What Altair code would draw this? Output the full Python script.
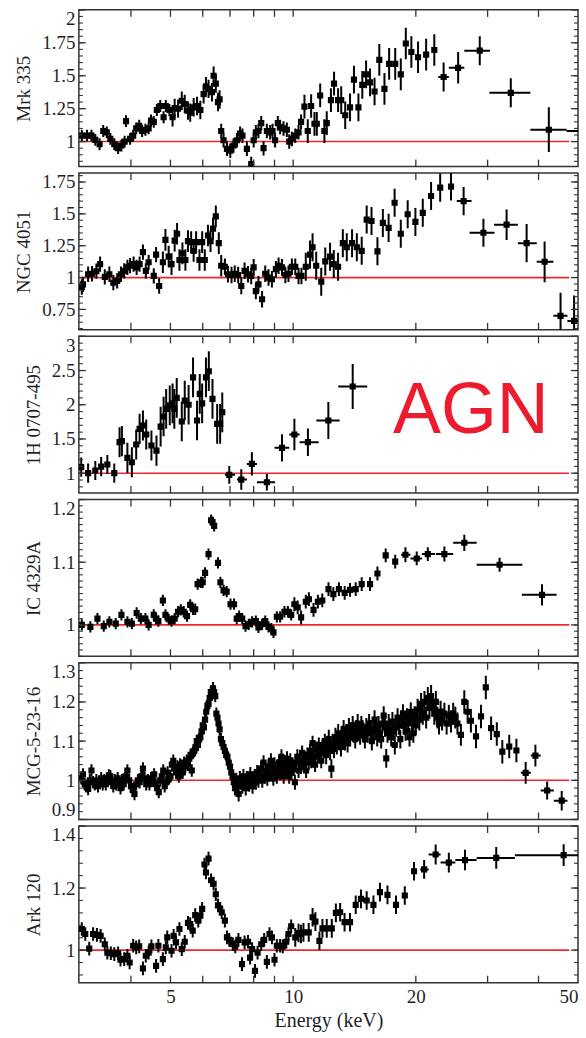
import altair as alt
import pandas as pd

FONT = "Liberation Serif"
TXT = "#1f1f29"
RED = "#f0282d"
AGN_RED = "#ec1b2d"
XDOM = [2.98, 50]
X_LABELS = [5, 10, 20, 50]
X_TICKS = [4, 5, 6, 7, 8, 9, 10, 20, 30, 40]
LINE_END = 47.6
W, H = 500, 157

# ---------------- Mrk 335 ----------------
MRK = [(3.03, 1.045), (3.12, 1.045), (3.20, 1.045), (3.27, 1.013), (3.35, 0.98), (3.42, 1.08),
       (3.49, 1.07), (3.56, 1.02), (3.64, 0.98), (3.72, 0.95), (3.79, 0.97), (3.86, 1.00),
       (3.89, 1.155), (3.98, 1.02), (4.05, 1.045), (4.12, 1.10), (4.19, 1.12), (4.26, 1.08),
       (4.34, 1.09), (4.42, 1.10), (4.48, 1.16), (4.55, 1.15), (4.63, 1.24), (4.72, 1.27),
       (4.81, 1.185), (4.87, 1.27), (4.97, 1.24), (5.06, 1.185), (5.12, 1.255), (5.22, 1.25),
       (5.33, 1.31), (5.42, 1.285), (5.52, 1.235), (5.59, 1.22), (5.70, 1.26), (5.81, 1.27),
       (5.92, 1.24), (6.03, 1.36), (6.11, 1.42), (6.20, 1.40), (6.32, 1.375), (6.38, 1.50),
       (6.46, 1.44), (6.54, 1.30), (6.60, 1.32), (6.66, 1.08), (6.75, 1.01), (6.88, 0.945),
       (7.01, 0.93), (7.14, 0.97), (7.28, 1.01), (7.41, 1.06), (7.51, 1.045), (7.70, 0.945),
       (7.89, 0.83), (8.00, 1.01), (8.10, 1.07), (8.22, 1.08), (8.35, 1.14), (8.46, 0.95),
       (8.62, 1.08), (8.78, 1.07), (8.90, 1.08), (9.03, 1.01), (9.17, 1.14), (9.29, 1.11),
       (9.47, 1.10), (9.65, 1.09), (9.78, 1.00), (9.93, 1.02), (10.12, 1.045), (10.31, 1.07),
       (10.46, 1.15), (10.66, 1.265), (10.86, 1.08), (11.07, 1.27), (11.28, 1.135), (11.43, 1.135),
       (11.65, 1.35), (11.93, 1.08), (12.09, 1.14), (12.38, 1.315), (12.60, 1.44), (12.89, 1.315),
       (13.12, 1.315), (13.42, 1.20), (13.79, 1.26), (14.10, 1.47), (14.46, 1.26), (14.78, 1.43),
       (15.10, 1.51), (15.44, 1.45), (15.84, 1.38), (16.27, 1.62), (16.75, 1.40), (17.20, 1.59),
       (17.80, 1.59), (18.37, 1.51), (18.90, 1.745), (19.50, 1.68), (20.25, 1.64), (21.20, 1.66),
       (22.20, 1.695)]
MRK_ERR_EDGES = [5.0, 6.62, 10.5, 13.0, 16.0, 100]
MRK_ERR_VALS = [0.045, 0.07, 0.055, 0.09, 0.105, 0.12]
# wide bins: energy, ratio, error, bin low, bin high
MRK_WIDE = [(23.4, 1.49, 0.11, 22.7, 24.1), (25.4, 1.56, 0.12, 24.1, 26.3),
            (28.7, 1.69, 0.11, 26.3, 30.4), (34.2, 1.37, 0.11, 30.3, 38.2),
            (42.4, 1.09, 0.17, 38.2, 46.9), (55.0, 1.08, 0.20, 46.9, 62.0)]

# ---------------- NGC 4051 ----------------
NGC = [(3.03, 0.926), (3.05, 0.947), (3.14, 1.026), (3.21, 1.03), (3.29, 1.05), (3.36, 1.106),
       (3.45, 1.005), (3.54, 1.026), (3.62, 0.96), (3.70, 0.974), (3.78, 1.026), (3.85, 1.053),
       (3.92, 1.08), (3.98, 1.093), (4.06, 1.106), (4.13, 1.08), (4.20, 1.106), (4.28, 1.20),
       (4.35, 1.053), (4.42, 1.12), (4.55, 1.013), (4.61, 1.18), (4.69, 0.934), (4.79, 1.12),
       (4.86, 1.296), (4.95, 1.164), (5.03, 1.106), (5.12, 1.29), (5.19, 1.344), (5.26, 1.138),
       (5.35, 1.19), (5.44, 1.138), (5.52, 1.286), (5.62, 1.278), (5.70, 1.21), (5.78, 1.278),
       (5.89, 1.138), (5.98, 1.278), (6.07, 1.138), (6.18, 1.33), (6.27, 1.286), (6.36, 1.384),
       (6.46, 1.48), (6.57, 1.27), (6.66, 1.093), (6.80, 1.085), (6.92, 1.026), (7.06, 1.02),
       (7.19, 1.03), (7.33, 1.02), (7.46, 0.934), (7.60, 1.053), (7.75, 1.026), (7.89, 1.013),
       (8.00, 1.08), (8.10, 0.894), (8.22, 0.947), (8.39, 0.83), (8.54, 1.03), (8.70, 1.0),
       (8.87, 0.987), (9.07, 1.066), (9.21, 1.093), (9.39, 1.08), (9.57, 1.02), (9.74, 1.03),
       (9.93, 1.085), (10.12, 1.085), (10.31, 1.013), (10.48, 1.013), (10.74, 1.085), (11.0, 1.18),
       (11.16, 1.238), (11.39, 1.093), (11.72, 0.968), (11.99, 1.127), (12.32, 1.164), (12.58, 1.106),
       (12.89, 1.085), (13.24, 1.27), (13.54, 1.238), (13.95, 1.27), (14.33, 1.238), (14.73, 1.21),
       (15.15, 1.455), (15.57, 1.444), (16.1, 1.206), (16.6, 1.429), (17.15, 1.39), (17.74, 1.587),
       (18.37, 1.344), (19.1, 1.497), (19.95, 1.437), (20.8, 1.508), (21.8, 1.64), (22.95, 1.706),
       (24.4, 1.714)]
NGC_ERR_EDGES = [4.7, 6.7, 10.5, 100]
NGC_ERR_VALS = [0.06, 0.085, 0.065, 0.11]
NGC_WIDE = [(26.2, 1.60, 0.11, 25.2, 27.4), (29.3, 1.352, 0.11, 27.1, 31.2),
            (33.4, 1.415, 0.12, 31.1, 35.6), (37.4, 1.27, 0.15, 35.6, 39.6),
            (41.4, 1.124, 0.16, 39.6, 43.5), (45.3, 0.70, 0.18, 43.5, 47.1),
            (48.9, 0.66, 0.20, 47.1, 50.5)]

# ---------------- 1H 0707-495 ----------------
H07 = [(3.02, 1.088), (3.14, 1.0), (3.27, 1.04), (3.38, 1.097), (3.50, 1.127), (3.64, 1.0),
       (3.75, 1.453), (3.80, 1.468), (3.92, 1.224), (4.02, 1.16), (4.12, 1.419), (4.20, 1.648),
       (4.28, 1.697), (4.36, 1.565), (4.49, 1.404), (4.62, 1.33), (4.73, 1.68), (4.81, 1.828),
       (4.88, 1.94), (4.98, 1.99), (5.06, 2.02), (5.11, 1.94), (5.18, 2.10), (5.33, 1.755),
       (5.42, 2.06), (5.54, 2.0), (5.68, 2.40), (5.81, 1.77), (5.90, 2.16), (5.98, 2.02),
       (6.11, 2.40), (6.21, 2.49), (6.34, 2.087), (6.51, 1.72), (6.62, 1.72), (6.70, 1.89)]
H07_ERR_EDGES = [3.7, 4.7, 100]
H07_ERR_VALS = [0.14, 0.22, 0.29]
H07_WIDE = [(6.97, 0.976, 0.13, 6.80, 7.20), (7.46, 0.907, 0.15, 7.28, 7.70),
            (7.92, 1.136, 0.17, 7.70, 8.15), (8.62, 0.868, 0.12, 8.15, 9.03),
            (9.39, 1.37, 0.20, 9.00, 9.78), (10.07, 1.565, 0.23, 9.78, 10.37),
            (10.87, 1.453, 0.20, 10.37, 11.55), (12.2, 1.77, 0.27, 11.40, 13.0),
            (14.0, 2.267, 0.33, 12.9, 15.2)]

# ---------------- IC 4329A ----------------
IC = [(3.03, 1.0), (3.18, 0.997), (3.31, 1.01), (3.43, 0.998), (3.54, 1.005), (3.67, 1.002),
      (3.79, 1.016), (3.92, 1.005), (4.02, 1.002), (4.13, 1.019), (4.23, 1.01), (4.34, 1.01),
      (4.42, 1.0), (4.55, 1.016), (4.61, 1.01), (4.67, 1.006), (4.79, 1.039), (4.86, 1.016),
      (4.95, 1.009), (5.03, 1.006), (5.12, 1.01), (5.22, 1.021), (5.30, 1.024), (5.39, 1.021),
      (5.49, 1.014), (5.59, 1.032), (5.68, 1.025), (5.75, 1.025), (5.83, 1.065), (5.94, 1.068),
      (6.0, 1.068), (6.08, 1.083), (6.2, 1.113), (6.29, 1.167), (6.34, 1.164), (6.40, 1.158),
      (6.54, 1.099), (6.63, 1.068), (6.75, 1.055), (6.87, 1.053), (7.02, 1.033), (7.16, 1.033),
      (7.27, 1.01), (7.37, 1.014), (7.50, 1.01), (7.64, 0.998), (7.78, 1.001), (7.93, 1.005),
      (8.10, 1.006), (8.22, 0.996), (8.39, 1.001), (8.54, 1.006), (8.70, 0.997), (8.84, 0.994),
      (8.95, 0.988), (9.12, 1.013), (9.29, 1.013), (9.52, 1.021), (9.71, 1.021), (9.89, 1.016),
      (10.07, 1.033), (10.26, 1.028), (10.46, 1.012), (10.74, 1.037), (10.93, 1.041),
      (11.22, 1.024), (11.50, 1.037), (11.79, 1.039), (12.21, 1.057), (12.55, 1.049),
      (12.95, 1.057), (13.38, 1.051), (13.79, 1.056), (14.24, 1.057), (14.73, 1.065),
      (15.44, 1.065), (16.1, 1.082), (16.87, 1.111), (17.8, 1.101)]
IC_ERR_EDGES = [10.0, 100]
IC_ERR_VALS = [0.009, 0.011]
IC_WIDE = [(18.86, 1.112, 0.012, 18.4, 19.4), (20.1, 1.106, 0.011, 19.4, 20.7),
           (21.4, 1.113, 0.011, 20.7, 22.3), (23.5, 1.113, 0.012, 22.4, 24.7),
           (26.3, 1.131, 0.013, 24.7, 28.2), (32.1, 1.096, 0.011, 28.2, 36.5),
           (40.8, 1.048, 0.017, 36.4, 44.3)]

# ---------------- MCG-5-23-16 ----------------
MCG = [(3.02, 1.005), (3.05, 1.015), (3.08, 0.99), (3.11, 0.985), (3.14, 0.978), (3.17, 1.0),
       (3.20, 1.025), (3.23, 0.995), (3.26, 0.99), (3.29, 1.0), (3.32, 0.985), (3.35, 0.995),
       (3.38, 1.005), (3.41, 0.99), (3.44, 1.0), (3.47, 0.99), (3.50, 1.005), (3.53, 1.012),
       (3.56, 1.01), (3.59, 0.995), (3.62, 0.985), (3.65, 1.0), (3.68, 0.99), (3.71, 1.005),
       (3.74, 0.995), (3.77, 0.98), (3.80, 1.0), (3.84, 0.99), (3.88, 1.01), (3.92, 1.025),
       (3.96, 1.0), (4.00, 0.985), (4.04, 0.975), (4.08, 0.965), (4.12, 0.99), (4.16, 1.0),
       (4.20, 0.995), (4.24, 1.01), (4.28, 1.03), (4.32, 1.005), (4.36, 0.99), (4.40, 1.0),
       (4.44, 0.99), (4.48, 1.005), (4.52, 1.0), (4.56, 1.015), (4.60, 0.99), (4.64, 0.98),
       (4.68, 0.97), (4.72, 1.0), (4.76, 1.01), (4.80, 1.025), (4.84, 0.985), (4.88, 0.995),
       (4.92, 1.02), (4.96, 1.005), (5.00, 1.01), (5.04, 1.04), (5.08, 1.05), (5.12, 1.03),
       (5.16, 1.02), (5.20, 1.035), (5.24, 1.01), (5.28, 1.04), (5.32, 1.025), (5.36, 1.02),
       (5.40, 1.045), (5.44, 1.035), (5.48, 1.05), (5.52, 1.04), (5.56, 1.055), (5.60, 1.065),
       (5.64, 1.025), (5.68, 1.07), (5.72, 1.075), (5.76, 1.085), (5.80, 1.1), (5.84, 1.09),
       (5.88, 1.105), (5.92, 1.11), (5.96, 1.125), (6.00, 1.14), (6.04, 1.135), (6.08, 1.155),
       (6.12, 1.175), (6.16, 1.19), (6.20, 1.195), (6.24, 1.21), (6.28, 1.225), (6.32, 1.22),
       (6.36, 1.235), (6.40, 1.225), (6.44, 1.215), (6.48, 1.17), (6.52, 1.16), (6.56, 1.145),
       (6.60, 1.13), (6.65, 1.105), (6.70, 1.095), (6.75, 1.085), (6.80, 1.075), (6.85, 1.065),
       (6.90, 1.06), (6.95, 1.045), (7.00, 1.035), (7.05, 1.02), (7.10, 1.01), (7.15, 0.995),
       (7.20, 0.98), (7.25, 1.0), (7.30, 0.99), (7.35, 0.965), (7.40, 1.005), (7.45, 0.995),
       (7.50, 0.985), (7.55, 1.01), (7.60, 0.995), (7.65, 0.98), (7.70, 1.005), (7.75, 1.0),
       (7.80, 0.99), (7.85, 1.015), (7.90, 1.0), (7.95, 0.985), (8.00, 1.005), (8.05, 1.01),
       (8.10, 0.995), (8.16, 1.02), (8.22, 1.0), (8.28, 1.015), (8.34, 1.03), (8.40, 1.0),
       (8.46, 1.045), (8.52, 1.01), (8.58, 1.025), (8.64, 1.005), (8.70, 1.035), (8.76, 1.015),
       (8.82, 1.05), (8.88, 1.02), (8.94, 1.005), (9.00, 1.04), (9.06, 1.025), (9.12, 1.01),
       (9.18, 1.035), (9.24, 1.045), (9.30, 1.02), (9.36, 1.06), (9.42, 1.03), (9.48, 1.01),
       (9.54, 1.045), (9.60, 1.025), (9.66, 1.055), (9.72, 1.035), (9.78, 1.01), (9.84, 1.05),
       (9.90, 1.02), (9.96, 1.04), (10.03, 1.03), (10.10, 0.995), (10.17, 1.045), (10.24, 1.06),
       (10.31, 1.025), (10.38, 1.05), (10.45, 1.035), (10.52, 1.07), (10.60, 1.04), (10.68, 1.055),
       (10.76, 1.025), (10.84, 1.065), (10.92, 1.045), (11.00, 1.075), (11.08, 1.05), (11.16, 1.095),
       (11.24, 1.06), (11.32, 1.04), (11.40, 1.08), (11.48, 1.065), (11.56, 1.09), (11.64, 1.07),
       (11.72, 1.05), (11.80, 1.085), (11.88, 1.075), (11.96, 1.1), (12.05, 1.065), (12.14, 1.09),
       (12.23, 1.105), (12.32, 1.075), (12.41, 1.03), (12.50, 1.095), (12.60, 1.08), (12.70, 1.11),
       (12.80, 1.09), (12.90, 1.12), (13.00, 1.1), (13.10, 1.085), (13.20, 1.115), (13.30, 1.13),
       (13.40, 1.1), (13.50, 1.12), (13.60, 1.095), (13.70, 1.135), (13.80, 1.11), (13.90, 1.125),
       (14.00, 1.14), (14.10, 1.12), (14.20, 1.105), (14.30, 1.13), (14.40, 1.145), (14.50, 1.125),
       (14.60, 1.115), (14.70, 1.14), (14.80, 1.13), (14.90, 1.12), (15.00, 1.105), (15.12, 1.135),
       (15.24, 1.12), (15.36, 1.145), (15.48, 1.13), (15.60, 1.1), (15.72, 1.125), (15.84, 1.155),
       (15.96, 1.13), (16.08, 1.11), (16.20, 1.14), (16.32, 1.12), (16.44, 1.105), (16.56, 1.145),
       (16.68, 1.165), (16.80, 1.135), (16.92, 1.056), (17.04, 1.12), (17.16, 1.145), (17.28, 1.13),
       (17.40, 1.11), (17.52, 1.15), (17.64, 1.125), (17.76, 1.09), (17.90, 1.135), (18.04, 1.16),
       (18.18, 1.14), (18.32, 1.105), (18.46, 1.155), (18.60, 1.17), (18.74, 1.14), (18.88, 1.125),
       (19.02, 1.16), (19.16, 1.145), (19.30, 1.11), (19.44, 1.175), (19.58, 1.15), (19.72, 1.12),
       (19.86, 1.165), (20.0, 1.14), (20.2, 1.18), (20.4, 1.155), (20.6, 1.195), (20.8, 1.17),
       (21.0, 1.2), (21.2, 1.16), (21.4, 1.21), (21.6, 1.185), (21.8, 1.215), (22.0, 1.19),
       (22.2, 1.17), (22.4, 1.2), (22.6, 1.16), (22.8, 1.145), (23.0, 1.175), (23.2, 1.155),
       (23.5, 1.17), (23.8, 1.145), (24.1, 1.165), (24.4, 1.15), (24.7, 1.17), (25.0, 1.16),
       (25.3, 1.145), (25.8, 1.116), (26.3, 1.2), (26.8, 1.175), (27.3, 1.152), (28.1, 1.112),
       (28.9, 1.163), (29.7, 1.237), (30.6, 1.133), (31.6, 1.118), (32.6, 1.073), (33.9, 1.086),
       (35.3, 1.076)]
MCG_ERR_EDGES = [7.0, 12.0, 20.0, 26.0, 100]
MCG_ERR_VALS = [0.016, 0.019, 0.024, 0.028, 0.03]
MCG_WIDE = [(37.2, 1.019, 0.028, 36.2, 38.3), (39.3, 1.063, 0.028, 38.3, 40.5),
            (42.0, 0.974, 0.023, 40.5, 43.6), (45.6, 0.948, 0.025, 43.6, 47.1)]

# ---------------- Ark 120 ----------------
ARK = [(3.03, 1.068), (3.09, 1.052), (3.16, 1.005), (3.23, 1.052), (3.30, 1.049), (3.37, 1.046),
       (3.45, 1.019), (3.50, 0.992), (3.57, 0.99), (3.64, 0.987), (3.72, 0.99), (3.77, 0.969),
       (3.85, 0.971), (3.92, 0.982), (3.97, 0.96), (4.05, 1.014), (4.12, 1.009), (4.19, 1.012),
       (4.28, 0.941), (4.35, 0.982), (4.42, 0.992), (4.49, 1.012), (4.61, 0.949), (4.67, 1.014),
       (4.79, 0.971), (4.87, 1.009), (4.91, 1.041), (5.03, 0.998), (5.09, 1.046), (5.16, 1.025),
       (5.26, 1.068), (5.33, 1.003), (5.42, 1.027), (5.52, 1.088), (5.59, 1.084), (5.67, 1.063),
       (5.75, 1.113), (5.85, 1.095), (5.92, 1.111), (5.98, 1.133), (6.06, 1.276), (6.11, 1.25),
       (6.20, 1.295), (6.29, 1.225), (6.38, 1.214), (6.46, 1.18), (6.54, 1.144), (6.62, 1.133),
       (6.68, 1.122), (6.80, 1.095), (6.88, 1.041), (6.97, 1.033), (7.11, 1.019), (7.21, 1.012),
       (7.34, 1.033), (7.49, 0.955), (7.60, 1.025), (7.75, 1.027), (7.84, 0.976), (7.93, 1.003),
       (8.06, 0.933), (8.18, 0.992), (8.35, 1.019), (8.49, 1.033), (8.62, 0.962), (8.75, 1.052),
       (8.87, 1.041), (9.00, 0.969), (9.12, 1.014), (9.29, 1.014), (9.43, 1.012), (9.62, 1.027),
       (9.74, 1.052), (9.89, 1.077), (10.12, 1.041), (10.31, 1.055), (10.45, 1.052), (10.6, 1.057),
       (10.92, 1.057), (11.16, 1.106), (11.34, 1.092), (11.6, 1.03), (11.8, 1.07), (12.09, 1.07),
       (12.44, 1.07), (12.73, 1.12), (13.04, 1.122), (13.37, 1.09), (13.79, 1.09), (14.24, 1.146),
       (14.67, 1.165), (15.15, 1.16), (15.74, 1.146), (16.33, 1.187), (17.04, 1.178), (17.88, 1.146),
       (18.79, 1.176), (19.8, 1.254)]
ARK_ERR_EDGES = [10.0, 100]
ARK_ERR_VALS = [0.022, 0.03]
ARK_WIDE = [(20.96, 1.26, 0.03, 20.5, 21.5), (22.37, 1.308, 0.032, 21.5, 23.0),
            (24.1, 1.282, 0.032, 23.0, 25.0), (26.4, 1.29, 0.033, 25.0, 28.2),
            (31.5, 1.297, 0.035, 28.2, 35.0), (46.1, 1.306, 0.035, 35.0, 56.0)]

# panel settings: name, points, err edges, err values, wide bins, y domain, y labels, minor step
PANELS = [
    ("Mrk 335", MRK, MRK_ERR_EDGES, MRK_ERR_VALS, MRK_WIDE, [0.81, 2.0], [1, 1.25, 1.5, 1.75, 2], 0.05),
    ("NGC 4051", NGC, NGC_ERR_EDGES, NGC_ERR_VALS, NGC_WIDE, [0.59, 1.82], [0.75, 1, 1.25, 1.5, 1.75], 0.05),
    ("1H 0707-495", H07, H07_ERR_EDGES, H07_ERR_VALS, H07_WIDE, [0.71, 3.0], [1, 1.5, 2, 2.5, 3], 0.1),
    ("IC 4329A", IC, IC_ERR_EDGES, IC_ERR_VALS, IC_WIDE, [0.95, 1.2], [1, 1.1, 1.2], 0.01),
    ("MCG-5-23-16", MCG, MCG_ERR_EDGES, MCG_ERR_VALS, MCG_WIDE, [0.9, 1.3], [0.9, 1, 1.1, 1.2, 1.3], 0.02),
    ("Ark 120", ARK, ARK_ERR_EDGES, ARK_ERR_VALS, ARK_WIDE, [0.895, 1.4], [1, 1.2, 1.4], 0.04),
]

AGN_POS = (27.3, 1.585)


def band_err(e, edges, vals):
    for edge, v in zip(edges, vals):
        if e <= edge:
            return v
    return vals[-1]


def make_panel(name, pts, edges, vals, wide, ydom, ymaj, ystep, bottom=False, agn=False):
    xs = alt.Scale(type="log", domain=XDOM, nice=False)
    ys = alt.Scale(domain=ydom, nice=False, zero=False)
    if bottom:
        xaxis = alt.Axis(values=X_LABELS, labelExpr="datum.value + ''", ticks=False, domain=False,
                         grid=False, labelFont=FONT, labelFontSize=19, labelColor=TXT,
                         labelPadding=5, labelFlush=True, title="Energy (keV)", titleFont=FONT,
                         titleFontSize=20, titleFontWeight="normal", titleColor=TXT, titlePadding=4)
    else:
        xaxis = None
    yaxis = alt.Axis(values=ymaj, labelExpr="datum.value + ''", ticks=False, domain=False,
                     grid=False, labelFont=FONT, labelFontSize=19, labelColor=TXT, labelPadding=4,
                     labelFlush=True, title=name, titleFont=FONT, titleFontSize=19,
                     titleFontWeight="normal", titleColor=TXT, titlePadding=8)

    def X(f):
        return alt.X(f, type="quantitative", scale=xs, axis=xaxis)

    def Y(f):
        return alt.Y(f, type="quantitative", scale=ys, axis=yaxis)

    fine = pd.DataFrame(pts, columns=["E", "r"])
    fine["err"] = [band_err(e, edges, vals) for e in fine["E"]]
    wdf = pd.DataFrame(wide, columns=["E", "r", "err", "xlo", "xhi"])
    alld = pd.concat([fine, wdf[["E", "r", "err"]]], ignore_index=True)
    alld["lo"] = alld["r"] - alld["err"]
    alld["hi"] = alld["r"] + alld["err"]

    ref = pd.DataFrame({"a": [XDOM[0]], "b": [LINE_END], "one": [1.0]})
    red = alt.Chart(ref).mark_rule(color=RED, strokeWidth=1.6).encode(
        x=X("a"), x2=alt.X2("b"), y=Y("one"))

    ebar = alt.Chart(alld).mark_rule(color="black", strokeWidth=2, clip=True).encode(
        x=X("E"), y=Y("lo"), y2=alt.Y2("hi"))
    hbar = alt.Chart(wdf).mark_rule(color="black", strokeWidth=2, clip=True).encode(
        x=X("xlo"), x2=alt.X2("xhi"), y=Y("r"))
    pts_l = alt.Chart(alld).mark_square(color="black", size=38, opacity=1, clip=True).encode(
        x=X("E"), y=Y("r"))

    xt = pd.DataFrame({"t": X_TICKS})
    xtop = alt.Chart(xt).mark_rule(color="#333", strokeWidth=1.3).encode(
        x=X("t"), y=alt.value(0), y2=alt.value(7))
    xbot = alt.Chart(xt).mark_rule(color="#333", strokeWidth=1.3).encode(
        x=X("t"), y=alt.value(H - 7), y2=alt.value(H))

    minors = []
    k = 0
    while k * ystep <= ydom[1] + 1e-9:
        v = round(k * ystep, 4)
        if v >= ydom[0] - 1e-9:
            minors.append(v)
        k += 1
    yt_maj = pd.DataFrame({"v": ymaj})
    yt_min = pd.DataFrame({"v": minors})
    ylm = alt.Chart(yt_maj).mark_rule(color="#333", strokeWidth=1.3).encode(
        y=Y("v"), x=alt.value(0), x2=alt.value(7))
    yrm = alt.Chart(yt_maj).mark_rule(color="#333", strokeWidth=1.3).encode(
        y=Y("v"), x=alt.value(W - 7), x2=alt.value(W))
    ylmin = alt.Chart(yt_min).mark_rule(color="#333", strokeWidth=1.1).encode(
        y=Y("v"), x=alt.value(0), x2=alt.value(4))
    yrmin = alt.Chart(yt_min).mark_rule(color="#333", strokeWidth=1.1).encode(
        y=Y("v"), x=alt.value(W - 4), x2=alt.value(W))

    layers = [red, ebar, hbar, pts_l, xtop, xbot, ylm, yrm, ylmin, yrmin]
    if agn:
        adf = pd.DataFrame({"E": [AGN_POS[0]], "r": [AGN_POS[1]], "t": ["AGN"]})
        layers.append(alt.Chart(adf).mark_text(font="Liberation Sans", fontSize=72, color=AGN_RED,
                                                align="center", baseline="alphabetic").encode(
            x=X("E"), y=Y("r"), text="t:N"))
    return alt.layer(*layers).properties(width=W, height=H)


charts = []
for i, (name, pts, edges, vals, wide, ydom, ymaj, ystep) in enumerate(PANELS):
    charts.append(make_panel(name, pts, edges, vals, wide, ydom, ymaj, ystep,
                             bottom=(i == len(PANELS) - 1), agn=(i == 2)))

chart = alt.vconcat(*charts, spacing=6.5, bounds="flush").properties(
    padding={"left": 14, "top": 7, "right": 6, "bottom": 4},
    background="white",
).configure_view(stroke="#333", strokeWidth=1.5)

chart.save("out.html", embed_options={"renderer": "svg", "actions": False})
